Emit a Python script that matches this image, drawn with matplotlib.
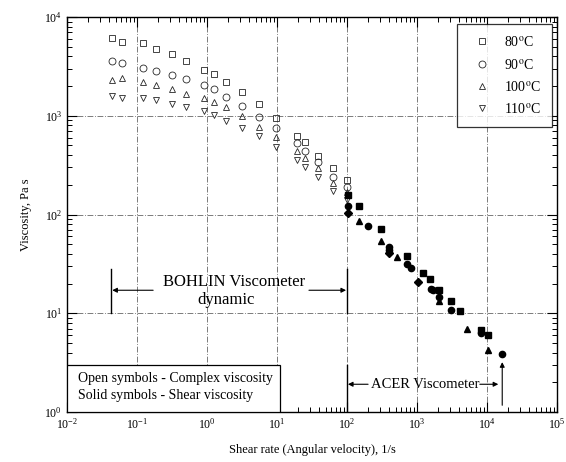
import matplotlib
matplotlib.use('Agg')
import matplotlib.pyplot as plt
from matplotlib.patches import Rectangle
from matplotlib.lines import Line2D

plt.rcParams['font.family'] = ['Liberation Serif', 'DejaVu Serif']
plt.rcParams['mathtext.fontset'] = 'stix'

# Bohlin (dynamic) - complex viscosity, open symbols
freq = [0.0436, 0.0617, 0.123, 0.185, 0.313, 0.50, 0.906, 1.26, 1.85, 3.13,
        5.5, 9.6, 19.1, 25.4, 38.1, 63.7, 99.0]
eta80 = [6170, 5620, 5420, 4710, 4190, 3580, 2900, 2640, 2210, 1760,
         1306, 957, 622, 546, 394, 293, 222]
eta90 = [3610, 3395, 3065, 2855, 2585, 2370, 2047, 1850, 1556, 1267,
         964, 745, 525, 442, 342, 241, 188]
eta100 = [2300, 2395, 2210, 2030, 1850, 1660, 1500, 1386, 1215, 987,
          778, 613, 442, 375, 293, 209, 170]
eta110 = [1596, 1522, 1522, 1442, 1314, 1217, 1116, 1017, 890, 759,
          618, 479, 356, 304, 241, 174, 140]

# ACER - shear viscosity, solid symbols
rate80 = [102, 150, 306, 713, 1231, 1534, 2063, 3060, 4115, 8128, 10440]
shear80 = [157, 122, 71, 37.9, 25.3, 22.0, 17.4, 13.3, 10.5, 6.74, 6.0]
rate90 = [102, 201, 402, 402, 713, 813, 1570, 1676, 2063, 3060, 8128, 16500]
shear90 = [122, 76.3, 46.5, 44.0, 31.3, 28.9, 17.8, 17.1, 14.7, 10.9, 6.32, 3.86]
rate100 = [150, 306, 513, 2063, 5130, 10440]
shear100 = [86.3, 54.1, 37.3, 13.4, 6.86, 4.23]
rate110 = [102, 402, 1045]
shear110 = [102.6, 40.4, 20.8]

labels = ['80$^\\mathrm{o}$C', '90$^\\mathrm{o}$C', '100$^\\mathrm{o}$C', '110$^\\mathrm{o}$C']
markers = ['s', 'o', '^', 'v']

bohlin_range = (0.043, 100)
acer_range = (100, 16500)

fig = plt.figure(figsize=(5.66, 4.62), dpi=100)
ax = fig.add_axes([0.1184, 0.1082, 0.8657, 0.8550])
ax.set_xscale('log')
ax.set_yscale('log')
ax.set_xlim(1e-2, 1e5)
ax.set_ylim(1, 1e4)

ax.grid(True, which='major', color='0.4', lw=0.6, ls=(0, (7, 2, 1, 2)))
ax.tick_params(which='both', direction='in', top=True, right=True, labelsize=8.5)
ax.tick_params(which='major', length=7, width=0.8)
ax.tick_params(which='minor', length=3.5, width=0.7)
for sp in ax.spines.values():
    sp.set_linewidth(1.0)

open_kw = dict(ls='none', mfc='none', mec='0.15', mew=0.6, ms=5)
for y, m in zip([eta80, eta90, eta100, eta110], markers):
    ax.plot(freq, y, marker=m, **open_kw)

solid_kw = dict(ls='none', color='k', ms=4.5)
ax.plot(rate80, shear80, marker='s', **solid_kw)
ax.plot(rate90, shear90, marker='o', **solid_kw)
ax.plot(rate100, shear100, marker='^', **solid_kw)
ax.plot(rate110, shear110, marker='D', **solid_kw)

# legend (temperatures)
handles = [Line2D([], [], marker=m, **open_kw) for m in markers]
leg = ax.legend(handles, labels, loc='upper right', bbox_to_anchor=(0.99, 0.982),
                borderaxespad=0, frameon=True, fancybox=False, fontsize=10,
                handlelength=2.1, handletextpad=0.5, labelspacing=0.6,
                borderpad=0.8)
leg.get_frame().set_edgecolor('k')
leg.get_frame().set_linewidth(0.9)

# symbol note box
ax.add_patch(Rectangle((0, 0), 0.435, 0.119, transform=ax.transAxes,
                       facecolor='white', edgecolor='k', lw=0.9, zorder=5))
ax.text(0.022, 0.086, 'Open symbols - Complex viscosity', transform=ax.transAxes,
        fontsize=10, va='center', zorder=6)
ax.text(0.022, 0.041, 'Solid symbols - Shear viscosity', transform=ax.transAxes,
        fontsize=10, va='center', zorder=6)

arr = dict(arrowstyle='-|>', lw=0.8, color='k', mutation_scale=7, shrinkA=0, shrinkB=0)

# BOHLIN range
for xv in bohlin_range:
    ax.plot([xv, xv], [10, 28], color='k', lw=1.0)
ax.annotate('', xy=(bohlin_range[0] * 1.03, 17.1), xytext=(0.17, 17.1), arrowprops=arr)
ax.annotate('', xy=(bohlin_range[1] * 0.97, 17.1), xytext=(28.6, 17.1), arrowprops=arr)
ax.text(2.43, 20.6, 'BOHLIN Viscometer', ha='center', va='center', fontsize=12)
ax.text(1.9, 13.6, 'dynamic', ha='center', va='center', fontsize=12)

# ACER range
ax.plot([acer_range[0], acer_range[0]], [1, 2.98], color='k', lw=1.0)
ax.annotate('', xy=(acer_range[0] * 1.03, 1.91), xytext=(200, 1.91), arrowprops=arr)
ax.annotate('', xy=(14500, 1.91), xytext=(7900, 1.91), arrowprops=arr)
ax.annotate('', xy=(acer_range[1], 3.2), xytext=(acer_range[1], 1.17), arrowprops=arr)
ax.text(1300, 1.91, 'ACER Viscometer', ha='center', va='center', fontsize=10.5)

ax.set_xlabel('Shear rate (Angular velocity), 1/s', fontsize=9, labelpad=9)
ax.set_ylabel('Viscosity, Pa s', fontsize=9, labelpad=9)

fig.savefig('out.png', dpi=100)
